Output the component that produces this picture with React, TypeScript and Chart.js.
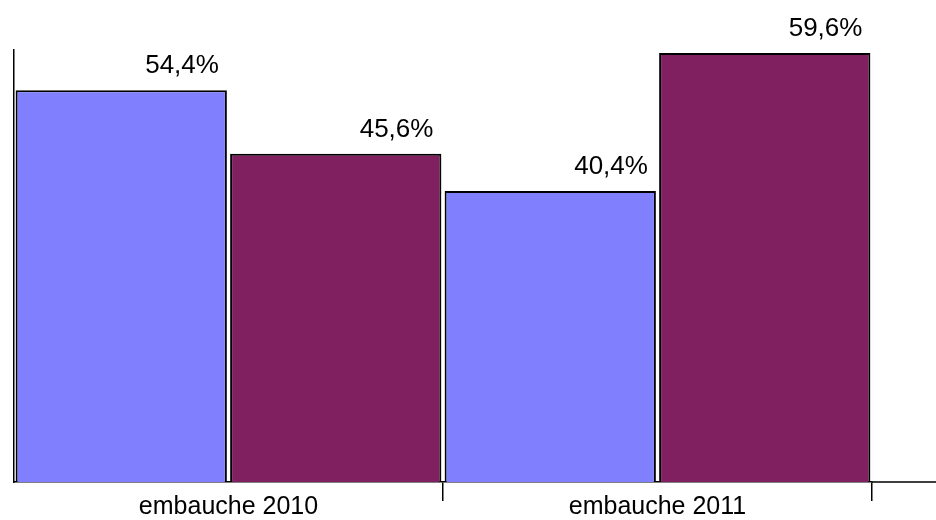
import React, { useEffect, useRef } from "react";
import { Chart, registerables } from "chart.js";

Chart.register(...registerables);

const categories = ["embauche 2010", "embauche 2011"];
const seriesA = [54.4, 40.4];
const seriesB = [45.6, 59.6];
const yMax = 60;

const FONT = "'Liberation Sans', Arial, sans-serif";

const valueLabels = {
  id: "valueLabels",
  afterDatasetsDraw(chart: any) {
    const ctx = chart.ctx;
    ctx.save();
    ctx.font = `26px ${FONT}`;
    ctx.fillStyle = "#000";
    ctx.textAlign = "right";
    ctx.textBaseline = "alphabetic";
    chart.data.datasets.forEach((ds: any, di: number) => {
      const meta = chart.getDatasetMeta(di);
      meta.data.forEach((el: any, i: number) => {
        const v = ds.data[i] as number;
        const txt = v.toFixed(1).replace(".", ",") + "%";
        ctx.fillText(txt, el.x + el.width / 2 - 8, el.y - 17);
      });
    });
    ctx.restore();
  },
};

const extendAxis = {
  id: "extendAxis",
  afterDraw(chart: any) {
    const ctx = chart.ctx;
    const a = chart.chartArea;
    ctx.save();
    ctx.strokeStyle = "#000";
    ctx.lineWidth = 1.5;
    ctx.beginPath();
    ctx.moveTo(a.right, a.bottom);
    ctx.lineTo(chart.width, a.bottom);
    ctx.stroke();
    ctx.restore();
  },
};

export default function App() {
  const ref = useRef<HTMLCanvasElement>(null);
  useEffect(() => {
    if (!ref.current) return;
    const chart = new Chart(ref.current, {
      type: "bar",
      data: {
        labels: categories,
        datasets: [
          {
            label: "A",
            data: seriesA,
            backgroundColor: "#8080FF",
            borderColor: "#000",
            borderWidth: 2,
            categoryPercentage: 1,
            barPercentage: 0.985,
          },
          {
            label: "B",
            data: seriesB,
            backgroundColor: "#802060",
            borderColor: "#000",
            borderWidth: 2,
            categoryPercentage: 1,
            barPercentage: 0.985,
          },
        ],
      },
      options: {
        animation: false,
        responsive: false,
        maintainAspectRatio: false,
        layout: { padding: { left: 14, right: 64, top: 50, bottom: 0 } },
        plugins: { legend: { display: false }, tooltip: { enabled: false } },
        scales: {
          x: {
            offset: true,
            grid: {
              display: true,
              offset: true,
              drawOnChartArea: false,
              drawTicks: true,
              tickLength: 19,
              lineWidth: 1.5,
              color: (c: any) => (c.index === 0 ? "rgba(0,0,0,0)" : "#000"),
            },
            border: { display: true, color: "#000", width: 1.5 },
            ticks: {
              color: "#000",
              font: { family: FONT, size: 25 },
              padding: -9,
              maxRotation: 0,
            },
            afterFit: (s: any) => {
              s.height = 38;
            },
          },
          y: {
            min: 0,
            max: yMax,
            grid: { display: false },
            border: { display: true, color: "#000", width: 1.5 },
            ticks: { display: false },
            afterFit: (s: any) => {
              s.width = 0;
            },
          },
        },
      },
      plugins: [valueLabels, extendAxis],
    });
    return () => chart.destroy();
  }, []);
  return (
    <div style={{ position: "absolute", left: 0, top: 0, width: 936, height: 520, background: "#fff" }}>
      <canvas ref={ref} width={936} height={520} />
    </div>
  );
}
